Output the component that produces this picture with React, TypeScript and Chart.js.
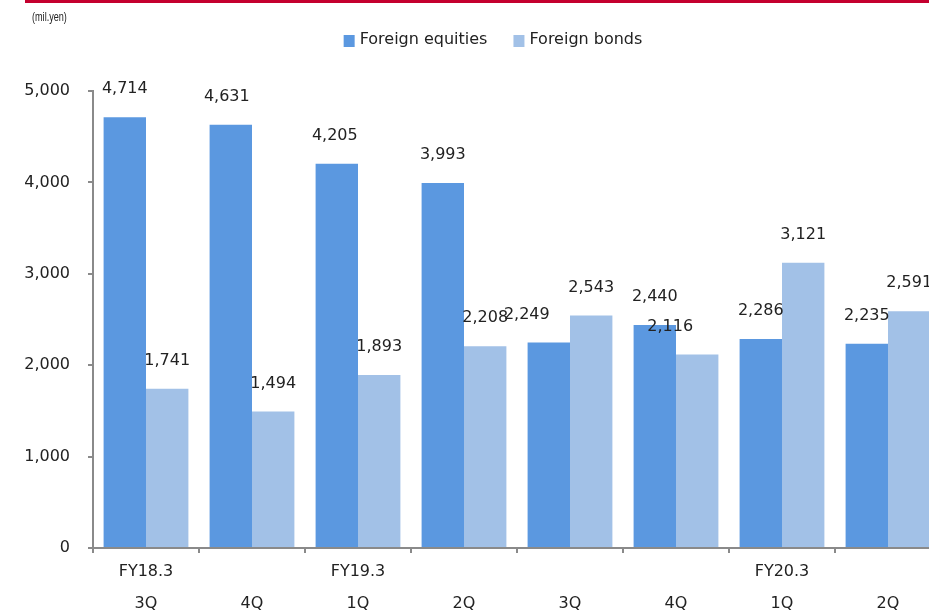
import React, { useEffect, useRef } from 'react';
import { Chart, registerables } from 'chart.js';

Chart.register(...registerables);

const fiscalYears = ['FY18.3', '', 'FY19.3', '', '', '', 'FY20.3', ''];
const quarters = ['3Q', '4Q', '1Q', '2Q', '3Q', '4Q', '1Q', '2Q'];
const foreignEquities = [4714, 4631, 4205, 3993, 2249, 2440, 2286, 2235];
const foreignBonds = [1741, 1494, 1893, 2208, 2543, 2116, 3121, 2591];
const seriesNames = ['Foreign equities', 'Foreign bonds'];
const unitLabel = '(mil.yen)';
const yMin = 0;
const yMax = 5000;
const yStep = 1000;

// small horizontal nudges for individual value labels (as placed in the original)
const equityLabelNudge = [0, -4, -2, 0, -22, 0, 0, 0];
const bondLabelNudge = [0, 0, 0, 0, 0, -27, 0, 0];

const EQUITY_COLOR = '#5b98e0';
const BOND_COLOR = '#a2c1e7';
const AXIS_COLOR = '#8a8a8a';
const TEXT_COLOR = '#222222';
const FONT = "'DejaVu Sans', Verdana, sans-serif";

const fmt = (v: number) => v.toLocaleString('en-US');

const overlayPlugin = {
  id: 'overlay',
  afterDatasetsDraw(chart: any) {
    const ctx = chart.ctx;
    ctx.save();
    // value labels
    ctx.font = `16px ${FONT}`;
    ctx.fillStyle = TEXT_COLOR;
    ctx.textAlign = 'center';
    ctx.textBaseline = 'middle';
    const nudges = [equityLabelNudge, bondLabelNudge];
    chart.data.datasets.forEach((ds: any, di: number) => {
      const meta = chart.getDatasetMeta(di);
      meta.data.forEach((el: any, i: number) => {
        ctx.fillText(fmt(ds.data[i]), el.x + (nudges[di][i] || 0), el.y - 28);
      });
    });

    // legend
    ctx.font = `16px ${FONT}`;
    ctx.textAlign = 'left';
    const colors = [EQUITY_COLOR, BOND_COLOR];
    const box = 11;
    const gapBoxText = 5;
    const gapItems = 26;
    const widths = seriesNames.map((n) => ctx.measureText(n).width);
    const total = widths.reduce((a, w) => a + box + gapBoxText + w, 0) + gapItems * (seriesNames.length - 1);
    let x = 493 - total / 2;
    const cy = 40;
    seriesNames.forEach((n, i) => {
      ctx.fillStyle = colors[i];
      ctx.fillRect(x, cy - 5, box, 12);
      x += box + gapBoxText;
      ctx.fillStyle = TEXT_COLOR;
      ctx.fillText(n, x, cy);
      x += widths[i] + gapItems;
    });

    // unit label (narrow face emulated by horizontal scaling)
    ctx.font = `13px 'Liberation Sans', Arial, sans-serif`;
    ctx.fillStyle = TEXT_COLOR;
    ctx.textAlign = 'left';
    ctx.translate(32, 17);
    ctx.scale(0.7, 1);
    ctx.fillText(unitLabel, 0, 0);
    ctx.restore();
  },
};

export default function App() {
  const ref = useRef<HTMLCanvasElement | null>(null);

  useEffect(() => {
    if (!ref.current) return;
    const labels = quarters.map((q, i) => [fiscalYears[i], q]);
    const chart = new Chart(ref.current, {
      type: 'bar',
      data: {
        labels,
        datasets: [
          {
            label: seriesNames[0],
            data: foreignEquities,
            backgroundColor: EQUITY_COLOR,
            categoryPercentage: 0.8,
            barPercentage: 1.0,
          },
          {
            label: seriesNames[1],
            data: foreignBonds,
            backgroundColor: BOND_COLOR,
            categoryPercentage: 0.8,
            barPercentage: 1.0,
          },
        ],
      },
      options: {
        responsive: false,
        animation: false,
        layout: { padding: { left: 0, right: 4, top: 91, bottom: 0 } },
        plugins: {
          legend: { display: false },
          tooltip: { enabled: false },
        },
        scales: {
          x: {
            offset: true,
            grid: {
              offset: true,
              drawOnChartArea: false,
              drawTicks: true,
              tickLength: 5,
              color: AXIS_COLOR,
              lineWidth: 2,
            },
            border: { display: true, color: AXIS_COLOR, width: 2 },
            ticks: {
              color: TEXT_COLOR,
              font: { family: FONT, size: 16, lineHeight: 2 },
              padding: 3,
              maxRotation: 0,
              autoSkip: false,
            },
            afterFit(scale: any) {
              scale.height = 66;
            },
          },
          y: {
            min: yMin,
            max: yMax,
            ticks: {
              stepSize: yStep,
              color: TEXT_COLOR,
              font: { family: FONT, size: 16 },
              padding: 18,
              callback: (v: any) => fmt(Number(v)),
            },
            grid: {
              drawOnChartArea: false,
              drawTicks: true,
              tickLength: 5,
              color: AXIS_COLOR,
              lineWidth: 2,
            },
            border: { display: true, color: AXIS_COLOR, width: 2 },
            afterFit(scale: any) {
              scale.width = 93;
            },
          },
        },
      },
      plugins: [overlayPlugin],
    });
    return () => chart.destroy();
  }, []);

  return (
    <div
      style={{
        position: 'fixed',
        left: 0,
        top: 0,
        width: 929,
        height: 614,
        overflow: 'hidden',
        background: '#ffffff',
      }}
    >
      <div
        style={{
          position: 'absolute',
          left: 25,
          top: 0,
          width: 904,
          height: 3,
          background: '#c4002f',
        }}
      />
      <canvas ref={ref} width={945} height={614} style={{ display: 'block', width: 945, height: 614 }} />
    </div>
  );
}
